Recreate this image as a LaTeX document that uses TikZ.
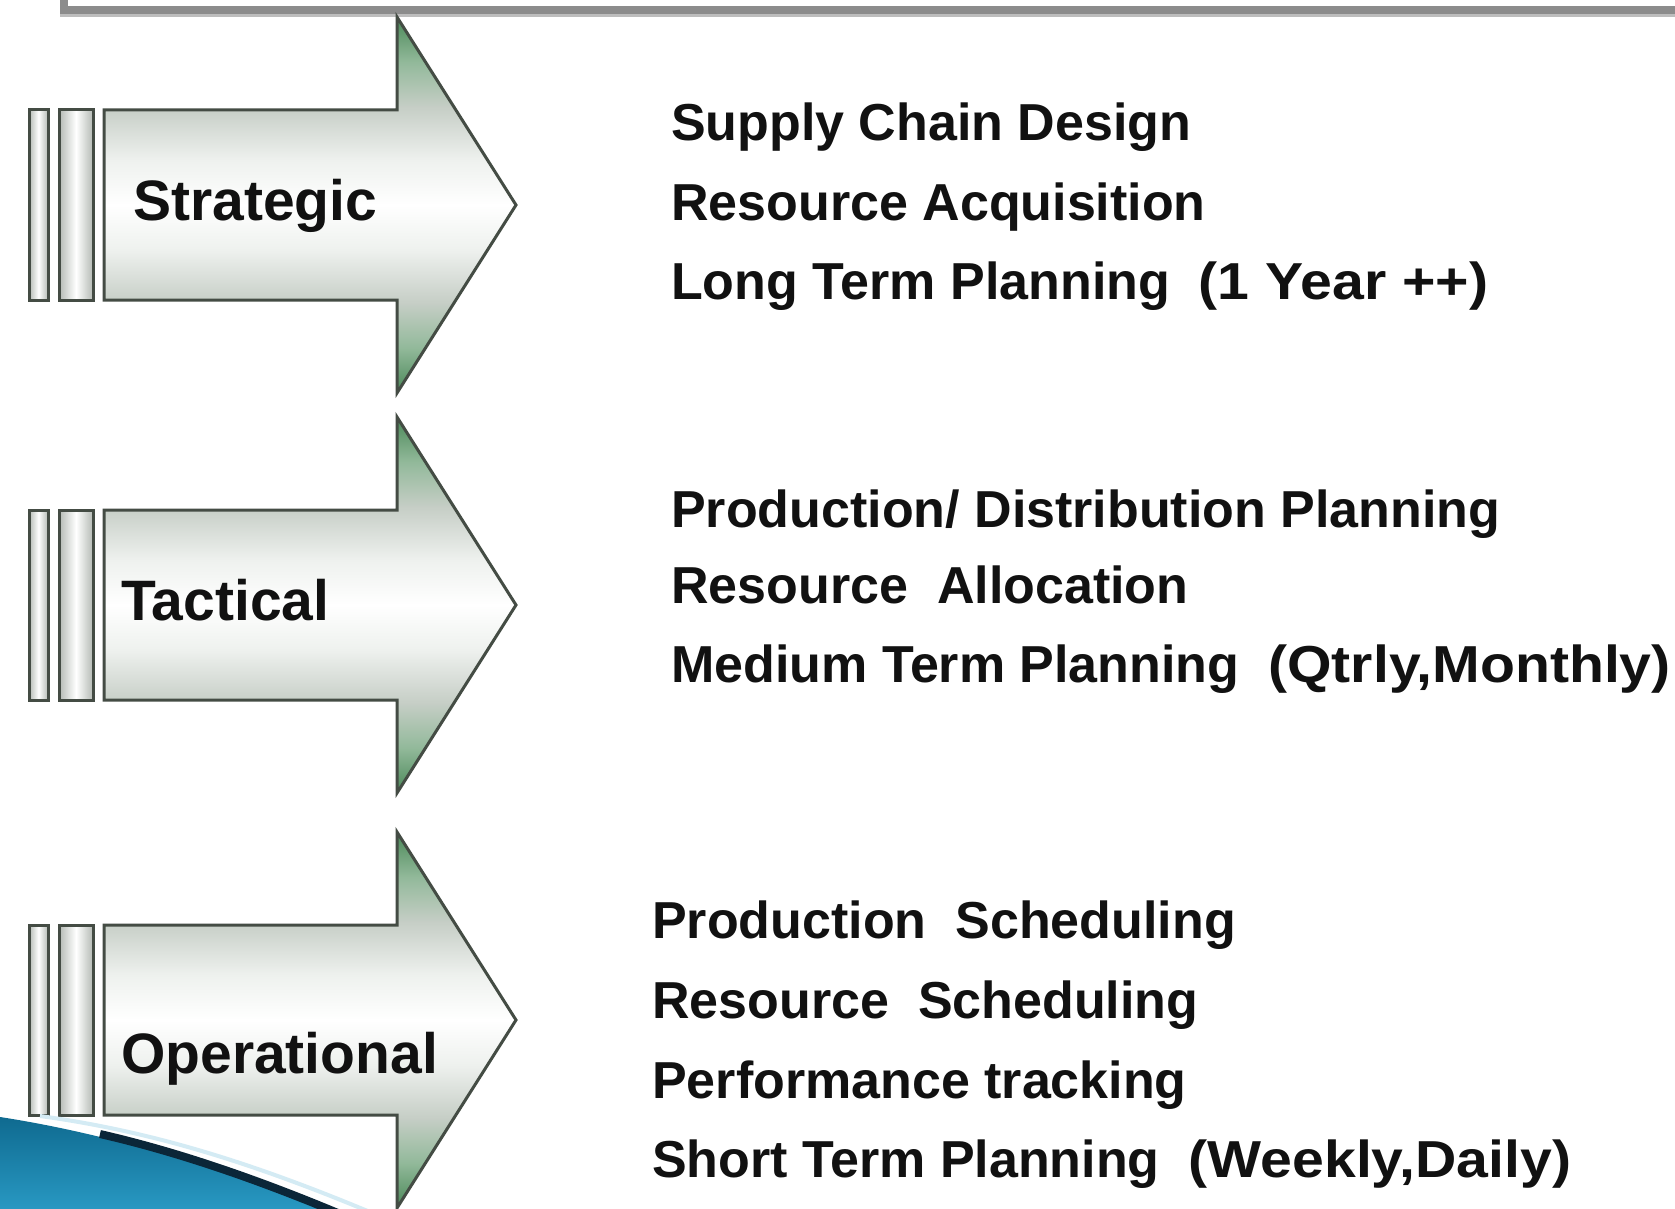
\documentclass[tikz,border=0pt]{standalone}
\usepackage{fontspec}
\setmainfont{Liberation Sans}
\definecolor{ag1}{HTML}{4A8858}
\definecolor{ag2}{HTML}{92B99A}
\definecolor{ag3}{HTML}{C6CEC6}
\definecolor{ag4}{HTML}{EEF1EE}
\definecolor{outl}{HTML}{444C44}
\definecolor{barg}{HTML}{B4BAB4}
\definecolor{frameg}{HTML}{8C8C8C}
\definecolor{framel}{HTML}{BDBDBD}
\definecolor{blueA}{HTML}{0F6A90}
\definecolor{blueB}{HTML}{2A9CC6}
\definecolor{blueEdge}{HTML}{0B2638}
\definecolor{txt}{HTML}{111111}
\pgfdeclareverticalshading{arrowgreen}{100bp}{color(0bp)=(ag1); color(25bp)=(ag1); color(31bp)=(ag2); color(37bp)=(ag3); color(44bp)=(ag4); color(50bp)=(white); color(56bp)=(ag4); color(63bp)=(ag3); color(69bp)=(ag2); color(75bp)=(ag1); color(100bp)=(ag1)}
\newcommand{\wid}[1]{\scalebox{1.1}[1]{#1}}
\begin{document}
\begin{tikzpicture}[x=1pt,y=-1pt,
  arrowbody/.style={draw=outl, line width=3pt, line join=miter, shading=arrowgreen},
  barbox/.style={draw=outl, line width=3pt, left color=barg, right color=barg, middle color=white},
  lab/.style={anchor=base west, inner sep=0pt, text=txt, font=\fontsize{57}{62}\selectfont\bfseries},
  item/.style={anchor=base west, inner sep=0pt, text=txt, font=\fontsize{52}{60}\selectfont\bfseries}]
\useasboundingbox (0,0) rectangle (1675,1209);
\clip (0,0) rectangle (1675,1209);
\fill[white] (0,0) rectangle (1675,1209);
% top frame
\draw[frameg, line width=8pt] (63.5,-10) -- (63.5,10) -- (1690,10);
\draw[framel, line width=3pt] (60,15.5) -- (1690,15.5);
% arrows
\foreach \cy in {205,605,1020}{
  \path[barbox] (29,\cy-95) rectangle (48,\cy+95);
  \path[barbox] (59,\cy-95) rectangle (93,\cy+95);
  \path[arrowbody] (104,\cy-95) -- (397,\cy-95) -- (397,\cy-188) -- (516,\cy)
     -- (397,\cy+188) -- (397,\cy+95) -- (104,\cy+95) -- cycle;
}
% swoosh
\shade[top color=blueA, bottom color=blueB] (0,1117) .. controls (110,1134) and (220,1168) .. (345,1216) -- (0,1216) -- cycle;
\draw[white!80!blueB, line width=4pt] (40,1116) .. controls (150,1131) and (250,1162) .. (370,1212);
\draw[blueEdge, line width=8pt] (100,1134) .. controls (170,1150) and (250,1176) .. (345,1216);
% labels
\node[lab] (strat) at (133,220) {Strategic};
\node[lab] (tact) at (121,620) {Tactical};
\node[lab] (oper) at (121,1073) {Operational};
% items
\node[item] (s1) at (671,141) {Supply Chain Design};
\node[item] (s2) at (671,221) {Resource Acquisition};
\node[item] (s3) at (671,299) {Long Term Planning\ \ \wid{(1 Year ++)}};
\node[item] (t1) at (671,527) {Production/ Distribution Planning};
\node[item] (t2) at (671,603) {Resource\ \ Allocation};
\node[item] (t3) at (671,682) {Medium Term Planning\ \ \wid{(Qtrly,Monthly)}};
\node[item] (o1) at (652,938) {Production\ \ Scheduling};
\node[item] (o2) at (652,1018) {Resource\ \ Scheduling};
\node[item] (o3) at (652,1098) {Performance tracking};
\node[item] (o4) at (652,1177) {Short Term Planning\ \ \wid{(Weekly,Daily)}};
\end{tikzpicture}
\end{document}
